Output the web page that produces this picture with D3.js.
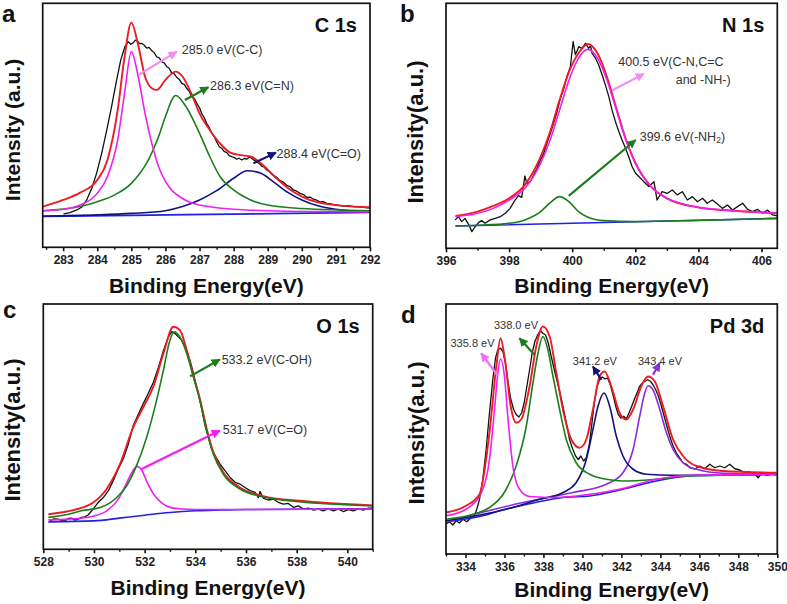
<!DOCTYPE html>
<html><head><meta charset="utf-8">
<script src="https://cdn.jsdelivr.net/npm/d3@7"></script>
<style>
html,body{margin:0;padding:0;background:#fff;}
svg{display:block;font-family:"Liberation Sans",Arial,sans-serif;}
</style></head>
<body>
<svg id="chart" width="787" height="604"></svg>
<script>
// ---------- Panel a : C 1s ----------
const c1sData = [[283.01,13.7],[283.2,14.2],[283.4,15.3],[283.54,16.4],[283.69,19.4],[283.84,24.2],[283.98,30.3],[284.13,38.5],[284.28,48.1],[284.42,57.7],[284.57,68.6],[284.69,76.8],[284.81,82.2],[284.91,84.3],[284.98,83.2],[285.06,83.9],[285.12,84.9],[285.18,84.6],[285.24,83.5],[285.3,83.6],[285.38,82.8],[285.45,81.6],[285.52,81.9],[285.6,80.6],[285.67,79.8],[285.74,78.1],[285.82,77.6],[285.89,76.1],[285.96,75.6],[286.04,74],[286.11,73.4],[286.18,71.6],[286.25,71.2],[286.33,69.7],[286.4,68.9],[286.48,67.2],[286.55,66.8],[286.62,65.2],[286.7,63.9],[286.77,61.7],[286.85,61.0],[286.92,59],[287.0,57.2],[287.06,54.9],[287.14,53.1],[287.21,50.8],[287.28,49.2],[287.36,46.7],[287.43,45.4],[287.5,43.3],[287.58,41.2],[287.65,40.6],[287.72,39.3],[287.8,38.8],[287.87,37.6],[287.94,37.2],[288.02,36.8],[288.09,36.1],[288.16,36.5],[288.24,35.8],[288.31,36.4],[288.38,36.1],[288.46,36.9],[288.53,36.5],[288.6,35.7],[288.68,35.1],[288.75,34.4],[288.82,33.3],[288.9,32.8],[288.97,31.7],[289.06,30.9],[289.16,29.6],[289.26,28.7],[289.36,27.3],[289.45,26.8],[289.55,25.5],[289.65,24.9],[289.75,23.5],[289.85,23.0],[289.95,22.1],[290.05,21.6],[290.14,20.5],[290.24,20.6],[290.34,19.7],[290.44,19.3],[290.53,18.6],[290.63,18.7],[290.73,18.0],[290.83,17.9],[290.92,17.5],[291.07,17.3],[291.22,16.9],[291.37,17.1],[291.51,16.7],[291.66,16.6],[291.8,16.4],[292.0,16.1]];
const c1sFit = [[282.4,16.7],[283.0,19.4],[283.5,22.4],[284.0,27.6],[284.3,35.8],[284.6,56.3],[284.8,78],[285.0,92.1],[285.2,82.9],[285.4,70],[285.6,65.2],[285.75,64.5],[286.0,68.6],[286.3,72],[286.5,70],[286.8,61.7],[287.0,54.9],[287.3,48.1],[287.6,42.6],[287.9,38.8],[288.2,37.8],[288.5,37.2],[288.8,34.4],[289.2,29],[289.6,24.2],[290.0,20.8],[290.5,18.3],[291.0,17.3],[292.0,16.4]];
const c1sPeakCC = [[282.4,15.0],[283.0,15.6],[283.5,17.3],[284.0,22.1],[284.3,29],[284.6,44],[284.8,63],[285.0,80.2],[285.2,70],[285.4,55],[285.6,42.6],[285.8,33],[286.0,27],[286.5,20],[287.0,17.3],[288.0,15.6],[289.0,15.0],[292.0,14.5]];
const c1sPeakCN = [[282.4,15],[283.5,16.7],[284.0,18.7],[284.5,21.4],[285.0,26.2],[285.5,35.8],[285.8,45.4],[286.0,53.6],[286.3,62.2],[286.6,57.7],[287.0,46.7],[287.3,37.2],[287.6,29],[288.0,23.5],[288.5,19.4],[289.0,17.3],[290.0,15.9],[292.0,15]];
const c1sPeakCO = [[282.4,12.8],[284.0,13.3],[285.0,13.9],[286.0,15],[286.5,16.7],[287.0,19.4],[287.5,23.2],[288.0,28.3],[288.4,31.4],[288.8,30.3],[289.2,26.5],[289.6,22.4],[290.0,19.4],[290.5,16.9],[291.0,15.6],[292.0,14.5]];
const c1sBase = [[282.4,12.6],[285.0,13.1],[288.0,13.6],[292.0,14.3]];

// ---------- Panel b : N 1s ----------
const n1sData = [[396.29,11.6],[396.39,12.9],[396.5,10.9],[396.6,12.2],[396.71,9.9],[396.82,6.8],[396.92,8.8],[397.03,10.5],[397.13,11.3],[397.24,10.2],[397.4,11.6],[397.56,12.2],[397.72,12.9],[397.88,14.3],[398.03,16.3],[398.19,19.7],[398.3,21.5],[398.4,20.8],[398.5,29.5],[398.56,26.5],[398.67,27.2],[398.78,30.0],[398.88,32.5],[398.99,36.0],[399.09,38.5],[399.2,43],[399.31,47],[399.41,51],[399.52,55.8],[399.62,61],[399.73,65],[399.83,70],[399.94,74],[400.03,84.4],[400.1,79],[400.21,82.3],[400.31,81.5],[400.42,83.7],[400.52,81.6],[400.58,82.6],[400.63,79.6],[400.74,77.6],[400.84,74.8],[400.95,70.7],[401.05,66.7],[401.16,61.9],[401.26,56.5],[401.37,51.7],[401.48,47.6],[401.58,44.2],[401.69,40.8],[401.79,37.4],[401.9,33.3],[402.01,30.6],[402.11,29.3],[402.27,27.2],[402.43,25.2],[402.59,27.2],[402.69,19.7],[402.85,23.1],[403.01,22.4],[403.17,23.8],[403.33,21.8],[403.49,23.1],[403.65,19.7],[403.81,21.1],[403.97,19],[404.13,20.4],[404.28,18.4],[404.44,19.7],[404.6,18.1],[404.76,16.3],[404.92,17.7],[405.08,15.6],[405.24,17],[405.4,18.4],[405.56,15.9],[405.71,15],[405.87,15.9],[406.03,14.3],[406.19,15.6],[406.35,13.6],[406.5,13.2]];
const n1sFit = [[396.3,13.2],[397,15],[397.5,17.3],[398,20.4],[398.5,25.9],[399,37.4],[399.3,47.6],[399.6,60.5],[399.9,72.1],[400.2,79.6],[400.5,83.4],[400.8,79.6],[401.1,70],[401.4,57.1],[401.7,44.5],[402,35],[402.5,25.2],[403,20.4],[404,16.7],[405,15.4],[406.5,14.3]];
const n1sPeakCN = [[396.3,12.9],[397,14.3],[397.5,16.3],[398,19.7],[398.5,24.5],[399,34.7],[399.3,44.2],[399.6,56.5],[399.9,68.7],[400.2,77.6],[400.5,81.2],[400.8,77.6],[401.1,68.7],[401.4,56.5],[401.7,44.2],[402,34.7],[402.5,25.2],[403,20.4],[403.5,18.1],[404,16.7],[405,15.4],[406.5,14.3]];
const n1sPeakNH2 = [[396.3,9.1],[397,9.4],[398,10.2],[398.5,11.6],[399.0,15],[399.3,18.6],[399.6,21.1],[399.9,19],[400.2,15],[400.5,12.7],[401,11.3],[402,10.9],[404,11.4],[406.5,12.2]];
const n1sBase = [[396.3,9.1],[401,10.5],[406.5,12.2]];

// ---------- Panel c : O 1s ----------
const o1sData = [[528.26,11.6],[528.42,12.4],[528.59,12.3],[528.72,11.8],[528.86,11.6],[528.99,12.6],[529.12,12.7],[529.25,11.9],[529.38,12.3],[529.51,13.0],[529.64,13.2],[529.78,14.1],[529.91,15.7],[530.17,19.1],[530.37,21.1],[530.57,23.9],[530.76,28],[530.96,32.7],[531.16,37],[531.36,43],[531.55,50.5],[531.75,55],[531.95,59.5],[532.14,63.5],[532.34,68],[532.54,74],[532.74,81],[532.93,86.5],[533.07,88.7],[533.2,88],[533.33,86.6],[533.46,85.3],[533.59,82.5],[533.72,79.1],[533.86,74.4],[533.99,68.9],[534.12,63.4],[534.25,57.3],[534.38,50.5],[534.51,45.7],[534.64,40.9],[534.78,38.2],[534.97,34.8],[535.17,32.1],[535.37,29.3],[535.57,27.3],[535.76,26.6],[535.96,25.2],[536.16,23.9],[536.36,23.2],[536.49,21.1],[536.55,23.6],[536.68,20.9],[536.88,20.1],[537.08,20.5],[537.28,19.1],[537.47,18.4],[537.67,18.7],[537.87,17.1],[538.07,17.7],[538.26,16.4],[538.46,16.8],[538.66,16],[538.86,16.4],[539.05,15.7],[539.25,16.5],[539.45,15.7],[539.64,16.4],[539.84,15.4],[540.04,16.2],[540.24,15.7],[540.43,16.5],[540.63,16],[540.83,16.8],[541.0,16.8]];
const o1sFit = [[528.2,14.3],[528.92,15.4],[529.97,19.1],[530.5,24.6],[531.03,34.8],[531.55,49.8],[531.95,58],[532.34,66.2],[532.74,79.8],[533.13,90.7],[533.39,89.4],[533.66,81.2],[533.92,70.9],[534.18,61.4],[534.45,49.1],[534.71,39.6],[535.1,31.4],[535.76,25.2],[536.8,21.4],[538.1,19.8],[541,17.9]];
const o1sPeakCOH = [[528.2,13],[529,14.3],[529.5,15.7],[530.24,17],[530.9,21.1],[531.29,25.9],[531.68,34.1],[532.08,45.7],[532.47,60.7],[532.74,73],[533.0,85.3],[533.16,88.7],[533.39,86.6],[533.66,79.8],[533.92,70.3],[534.18,60.7],[534.45,48.4],[534.71,38.9],[535.1,30.7],[535.76,24.6],[536.8,21.1],[538.1,19.4],[541,17.7]];
const o1sPeakCO = [[528.2,12],[529,12.3],[530,13.6],[530.5,15.7],[531,21.1],[531.3,27.3],[531.5,31.4],[531.7,33.8],[531.9,32],[532.1,27.3],[532.4,21.8],[532.7,18.7],[533,17.1],[533.5,16.4],[534,16.2],[536,16.2],[541,16.4]];
const o1sBase = [[528.2,11.2],[530,11.6],[531,12.7],[532,13.9],[533,15.0],[534,15.7],[535,16.0],[536,16.2],[541,16.5]];

// ---------- Panel d : Pd 3d ----------
const pdData = [[333.01,12],[333.18,12.9],[333.35,11.6],[333.52,13.3],[333.69,12.4],[333.86,13.9],[334.07,12.9],[334.29,14.6],[334.46,15.3],[334.58,17.9],[334.72,21.9],[334.89,29.9],[335.06,41.8],[335.23,56.4],[335.4,69.7],[335.54,78.4],[335.66,81.7],[335.8,82.3],[335.92,81],[336.05,76.4],[336.19,68.4],[336.33,61.8],[336.47,57.8],[336.6,55.8],[336.74,54.8],[336.88,56.4],[337.01,60.4],[337.15,67.1],[337.29,73.7],[337.42,80.3],[337.56,85],[337.7,87.6],[337.84,89.4],[337.97,88.3],[338.11,87.6],[338.25,84.3],[338.38,79.7],[338.52,75],[338.66,70.4],[338.83,65.1],[339.0,59.1],[339.17,52.5],[339.34,45.8],[339.51,41.8],[339.65,39.2],[339.79,37.8],[339.92,39.2],[340.06,37.2],[340.2,38.5],[340.34,43.2],[340.47,51.1],[340.61,60.4],[340.75,67.1],[340.88,69.7],[341.02,70.8],[341.16,70],[341.29,70.4],[341.43,67.7],[341.57,63.7],[341.71,59.1],[341.84,55.8],[341.98,54.4],[342.12,55.1],[342.25,54],[342.39,56.4],[342.53,59.1],[342.66,61.8],[342.8,64.4],[342.94,67.1],[343.08,68.4],[343.21,69.1],[343.35,69.7],[343.49,69.1],[343.62,67.7],[343.76,65.7],[343.9,63.1],[344.03,59.8],[344.17,55.8],[344.31,51.8],[344.48,47.1],[344.65,43.2],[344.82,40.5],[344.99,38.5],[345.16,36.5],[345.34,35.9],[345.51,34.5],[345.76,33.9],[346.02,35.2],[346.28,34.1],[346.53,35.9],[346.79,34.5],[347.05,35.2],[347.3,34.5],[347.56,35.9],[347.82,34.1],[348.08,33.6],[348.33,32.5],[348.59,32.8],[348.85,31.9],[349.02,30.5],[349.19,32.3],[349.45,31.5],[349.7,31.9],[349.96,31.6]];
const pdFit = [[333.01,16.6],[334.03,19.3],[334.72,23.9],[335.23,48.5],[335.58,75],[335.8,86.3],[336.0,79],[336.35,57.8],[336.6,52.5],[336.86,53.8],[337.29,67.1],[337.63,83],[337.97,91],[338.32,87],[338.66,72.4],[339.0,57.8],[339.43,45.8],[339.86,42.5],[340.2,45.8],[340.54,57.8],[340.88,71],[341.14,73],[341.48,67.1],[341.91,56.4],[342.25,53.8],[342.6,57.8],[343.02,67.1],[343.37,71],[343.71,69.1],[344.14,59.1],[344.65,45.8],[345.16,39.2],[345.85,35.2],[347.22,33.2],[349.96,32.5]];
const pdPeak1 = [[333.01,15.3],[334.03,17.9],[334.89,25.9],[335.23,37.8],[335.49,57.8],[335.66,72.4],[335.8,78],[336.0,71],[336.17,55.1],[336.43,35.2],[336.77,25.9],[337.29,23],[338.66,22.6],[340.37,23.9],[342.08,26.2],[343.79,29.9],[345.5,31.5],[349.96,31.9]];
const pdPeak2 = [[333.01,13.9],[334.38,15.9],[335.23,18.6],[336.09,25.9],[336.6,35.2],[337.12,51.1],[337.46,68.4],[337.72,80.3],[337.97,87],[338.23,81.7],[338.49,71],[338.83,57.8],[339.17,45.8],[339.68,36.5],[340.37,31.9],[341.23,29.9],[342.08,29.2],[343.79,29.9],[345.5,31.2],[349.96,31.9]];
const pdPeak3 = [[333.01,13.3],[336.09,17.9],[337.8,21.9],[339,24.6],[339.68,28.6],[340.2,37.8],[340.54,49.8],[340.8,59.1],[341.11,64.4],[341.4,59.1],[341.74,47.1],[342.08,39.2],[342.6,33.9],[343.28,31.9],[344.65,31.5],[349.96,31.9]];
const pdPeak4 = [[333.01,12.9],[336.95,20.6],[339.51,24.6],[341.23,27.9],[342.08,32.5],[342.6,41.8],[342.94,55.1],[343.2,64.4],[343.37,67.3],[343.62,65.7],[343.97,57.8],[344.31,48.5],[344.65,41.8],[345.16,36.5],[345.85,33.9],[347.22,32.3],[349.96,31.9]];
const pdBase = [[333.01,12.9],[334.89,15.3],[335.92,17.7],[336.95,19.5],[337.97,21.2],[339,22.6],[340.37,23.2],[342.08,25.9],[343.79,29.2],[345.5,31.2],[347.2,31.6],[349.96,31.9]];

// ---------- tick labels & texts ----------
const c1sTicks = [283,284,285,286,287,288,289,290,291,292];
const n1sTicks = [396,398,400,402,404,406];
const o1sTicks = [528,530,532,534,536,538,540];
const pdTicks = [334,336,338,340,342,344,346,348,350];
const panelLetters = ["a","b","c","d"];
const panelTitles = ["C 1s","N 1s","O 1s","Pd 3d"];
const yTitles = ["Intensity (a.u.)","Intensity(a.u.)","Intensity(a.u.)","Intensity(a.u.)"];
const xTitle = "Binding Energy(eV)";
// annotations: [text, x1, y1, x2, y2, textX, textY]
const c1sNotes = [["285.0 eV(C-C)",285.21,70.6,286.33,80.2,286.48,80.9],["286.3 eV(C=N)",286.57,60.4,287.26,65.6,287.31,66.1],["288.4 eV(C=O)",288.58,34.4,289.24,38.8,289.26,38.1]];
const n1sNotes = [["400.5 eV(C-N,C=C",401.26,64.4,402.27,71.2,401.46,76.2],["399.6 eV(-NH",399.89,21.4,402.01,44.2,402.14,45.6]];
const o1sNotes = [["533.2 eV(C-OH)",533.79,70.5,534.97,77.4,535.04,77.1],["531.7 eV(C=O)",531.88,32.7,534.97,48.4,535.08,48.7]];
const pdNotes = [["335.8 eV",335.66,71.3,334.8,80.3,333.23,84.3],["338.0 eV",337.54,79.7,336.77,86.3,335.46,91.6],["341.2 eV",340.97,69.7,340.54,75,339.51,77.4],["343.4 eV",343.62,71.7,343.97,76.4,342.85,77.4]];

const RED="#ec1c24", MAG="#f01ef0", GRN="#1a7f1a", NAVY="#12127e", BLUE="#2020e6", PURP="#8a2be2", BLK="#111";

const svg = d3.select("#chart");
const defs = svg.append("defs");
let mk=0;
function marker(color){
  const id="m"+(mk++);
  defs.append("marker").attr("id",id).attr("viewBox","0 0 10 10").attr("refX",9).attr("refY",5)
    .attr("markerWidth",9).attr("markerHeight",9).attr("markerUnits","userSpaceOnUse").attr("orient","auto")
    .append("path").attr("d","M0,0L10,5L0,10z").attr("fill",color);
  return id;
}

function panel(o){
  const g = svg.append("g");
  const x = d3.scaleLinear().domain(o.xdom).range([o.L,o.R]);
  const y = d3.scaleLinear().domain([0,100]).range([o.B,o.T]);
  const line = d3.line().x(d=>x(d[0])).y(d=>y(d[1]));
  const sm = d3.line().x(d=>x(d[0])).y(d=>y(d[1])).curve(d3.curveMonotoneX);
  const clip = "c"+o.letter;
  defs.append("clipPath").attr("id",clip).append("rect").attr("x",o.L).attr("y",o.T).attr("width",o.R-o.L).attr("height",o.B-o.T);
  const cg = g.append("g").attr("clip-path",`url(#${clip})`);
  o.curves.forEach(c=>{
    cg.append("path").datum(c.d).attr("d",c.smooth?sm:line).attr("fill","none")
      .attr("stroke",c.color).attr("stroke-width",c.w||1.6).attr("stroke-linejoin","round");
  });
  // axes
  const major = d3.axisBottom(x).tickValues(o.ticks).tickSize(4).tickPadding(4).tickFormat(d3.format("d"));
  const minorVals = d3.range(Math.ceil(o.xdom[0]/o.minor)*o.minor, o.xdom[1]+1e-9, o.minor).filter(v=>!o.ticks.some(t=>Math.abs(t-v)<1e-6));
  const minor = d3.axisBottom(x).tickValues(minorVals).tickSize(2.5).tickFormat("");
  const ag = g.append("g").attr("transform",`translate(0,${o.B})`).call(major);
  ag.select(".domain").remove();
  ag.selectAll("line").attr("stroke","#111").attr("stroke-width",1.6);
  ag.selectAll("text").attr("font-size",12).attr("font-weight","bold").attr("fill","#222");
  const mg = g.append("g").attr("transform",`translate(0,${o.B})`).call(minor);
  mg.select(".domain").remove();
  mg.selectAll("line").attr("stroke","#111").attr("stroke-width",1.4);
  g.append("rect").attr("x",o.L).attr("y",o.T).attr("width",o.R-o.L).attr("height",o.B-o.T)
    .attr("fill","none").attr("stroke","#111").attr("stroke-width",1.7);
  // texts
  g.append("text").attr("x",o.lx).attr("y",o.ly).text(o.letter).attr("font-size",24).attr("font-weight","bold").attr("fill","#111");
  g.append("text").attr("x",o.R-13).attr("y",o.T+29).attr("text-anchor","end").text(o.title).attr("font-size",20).attr("font-weight","bold").attr("fill","#111");
  g.append("text").attr("transform",`translate(${o.yx},${o.yy}) rotate(-90)`).attr("text-anchor","middle").attr("dominant-baseline","central")
    .text(o.ytitle).attr("font-size",o.yfs).attr("font-weight","bold").attr("fill","#111");
  g.append("text").attr("x",(o.L+o.R)/2).attr("y",o.xb).attr("text-anchor","middle").text(xTitle).attr("font-size",21).attr("font-weight","bold").attr("fill","#111");
  // notes
  o.notes.forEach((n,i)=>{
    const col=o.arrowColors[i];
    g.append("line").attr("x1",x(n[1])).attr("y1",y(n[2])).attr("x2",x(n[3])).attr("y2",y(n[4]))
      .attr("stroke",col).attr("stroke-width",2.2).attr("marker-end",`url(#${marker(col)})`);
    const t=g.append("text").attr("x",x(n[5])).attr("y",y(n[6])).attr("dominant-baseline","central")
      .attr("font-size",o.nfs).attr("fill","#333").text(n[0]);
    if(o.extra && o.extra[i]) o.extra[i](t,g,x,y);
  });
}

panel({letter:panelLetters[0],title:panelTitles[0],ytitle:yTitles[0],xdom:[282.4,292],L:42.7,R:370,T:3.3,B:247.3,
  ticks:c1sTicks,minor:0.5,lx:2,ly:21.5,yx:12,yy:130,yfs:21,xb:293,nfs:12.5,
  curves:[{d:c1sData,color:BLK,w:1.3},{d:c1sBase,color:BLUE,smooth:true},{d:c1sPeakCO,color:NAVY,smooth:true},{d:c1sPeakCN,color:GRN,smooth:true},{d:c1sPeakCC,color:MAG,smooth:true},{d:c1sFit,color:RED,smooth:true,w:1.9}],
  notes:c1sNotes,arrowColors:["#f28ef2",GRN,NAVY]});

panel({letter:panelLetters[1],title:panelTitles[1],ytitle:yTitles[1],xdom:[396,406.5],L:446,R:777.3,T:3.3,B:248.3,
  ticks:n1sTicks,minor:1,lx:400,ly:22,yx:415,yy:132,yfs:22,xb:293,nfs:12.5,
  curves:[{d:n1sData,color:BLK,w:1.3},{d:n1sBase,color:BLUE,smooth:true},{d:n1sPeakNH2,color:GRN,smooth:true},{d:n1sFit,color:RED,smooth:true,w:1.9},{d:n1sPeakCN,color:MAG,smooth:true}],
  notes:n1sNotes,arrowColors:["#f28ef2",GRN],
  extra:[ (t,g,x,y)=>{ g.append("text").attr("x",x(403.28)).attr("y",y(68.7)).attr("dominant-baseline","central").attr("font-size",12.5).attr("fill","#333").text("and -NH-)"); },
          (t)=>{ t.append("tspan").attr("font-size",8.5).attr("dy",3).text("2"); t.append("tspan").attr("dy",-3).text(")"); } ]});

panel({letter:panelLetters[2],title:panelTitles[2],ytitle:yTitles[2],xdom:[528,541],L:43.3,R:372.7,T:304,B:549.3,
  ticks:o1sTicks,minor:1,lx:3,ly:318,yx:12,yy:430,yfs:22,xb:595,nfs:12.5,
  curves:[{d:o1sData,color:BLK,w:1.3},{d:o1sBase,color:BLUE,smooth:true},{d:o1sPeakCO,color:MAG,smooth:true},{d:o1sFit,color:RED,smooth:true,w:1.9},{d:o1sPeakCOH,color:GRN,smooth:true}],
  notes:o1sNotes,arrowColors:[GRN,MAG]});

panel({letter:panelLetters[3],title:panelTitles[3],ytitle:yTitles[3],xdom:[333,350],L:446,R:777.3,T:304,B:554,
  ticks:pdTicks,minor:1,lx:401,ly:323,yx:416,yy:433,yfs:22,xb:597,nfs:11,
  curves:[{d:pdData,color:BLK,w:1.3},{d:pdBase,color:BLUE,smooth:true},{d:pdPeak4,color:PURP,smooth:true},{d:pdPeak3,color:NAVY,smooth:true},{d:pdPeak2,color:GRN,smooth:true},{d:pdPeak1,color:MAG,smooth:true},{d:pdFit,color:RED,smooth:true,w:1.9}],
  notes:pdNotes,arrowColors:["#f070f0",GRN,NAVY,PURP]});
</script>
</body></html>
